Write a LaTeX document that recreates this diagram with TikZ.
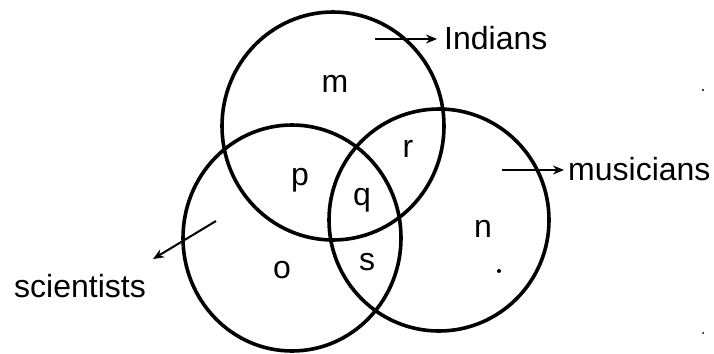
\documentclass[tikz,border=0pt]{standalone}
\usepackage{fontspec}
\setmainfont{Liberation Sans}
\usetikzlibrary{arrows.meta}
\begin{document}
\begin{tikzpicture}[x=1pt,y=-1pt,
  setline/.style={line width=3.6pt},
  lbl/.style={font=\fontsize{32}{32}\selectfont, inner sep=0pt, anchor=base},
  setname/.style={font=\fontsize{32}{32}\selectfont, inner sep=0pt, anchor=base west},
  pointer/.style={line width=2pt, -{Stealth[length=11pt,width=9pt]}},
  speck/.style={fill=black, draw=none}]
\useasboundingbox (0,0) rectangle (714,353);
% sets
\draw[setline] (333,126) ellipse [x radius=111, y radius=114];
\draw[setline] (292,238) ellipse [x radius=109, y radius=113];
\draw[setline] (439,220) ellipse [x radius=110, y radius=111];
% region letters
\node[lbl] (m) at (335,92) {m};
\node[lbl] (r) at (408,157) {r};
\node[lbl] (p) at (300,185) {p};
\node[lbl] (q) at (362,205) {q};
\node[lbl] (n) at (483,237) {n};
\node[lbl] (o) at (282,278) {o};
\node[lbl] (s) at (367,270) {s};
% set names
\node[setname] (ind) at (444,49) {Indians};
\node[setname] (mus) at (568,180) {musicians};
\node[setname] (sci) at (14,297) {scientists};
% pointers
\coordinate (a1) at (375,39);
\coordinate (a2) at (437,39);
\coordinate (b1) at (502,170);
\coordinate (b2) at (564,170);
\coordinate (c1) at (216,221);
\coordinate (c2) at (153,259);
\draw[pointer] (a1) -- (a2);
\draw[pointer] (b1) -- (b2);
\draw[pointer] (c1) -- (c2);
% specks
\fill[speck] (499,271) circle (2pt);
\fill[speck] (703,90) circle (1.2pt);
\fill[speck] (703,333) circle (1pt);
\end{tikzpicture}
\end{document}
